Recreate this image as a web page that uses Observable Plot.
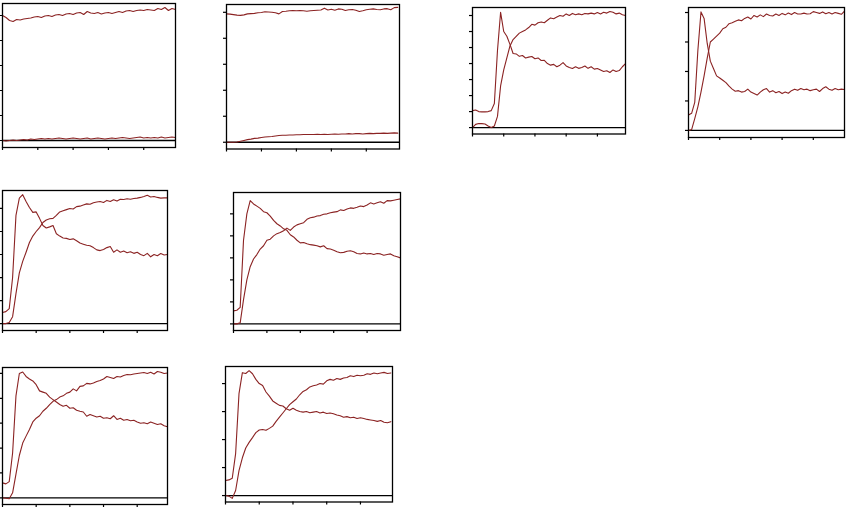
<!DOCTYPE html>
<html><head><meta charset="utf-8">
<script src="https://cdn.jsdelivr.net/npm/d3@7"></script>
<script src="https://cdn.jsdelivr.net/npm/@observablehq/plot@0.6"></script>
<style>
html,body{margin:0;padding:0;background:#fff;overflow:hidden;font-family:"DejaVu Sans",sans-serif}
#wrap{position:relative;width:851px;height:507px;overflow:hidden}
</style></head><body><div id="wrap"></div>
<script>
const time = [0,0.1,0.2,0.3,0.4,0.5,0.6,0.7,0.8,0.9,1.0,1.1,1.2,1.3,1.4,1.5,1.6,1.7,1.8,1.9,2.0,2.1,2.2,2.3,2.4,2.5,2.6,2.7,2.8,2.9,3.0,3.1,3.2,3.3,3.4,3.5,3.6,3.7,3.8,3.9,4.0,4.1,4.2,4.3,4.4,4.5,4.6,4.7,4.8,4.9,5.0];
const xTicks = [0,1,2,3,4];

const p1Upper = [5.0,4.92,4.8,4.76,4.84,4.82,4.86,4.88,4.9,4.94,4.96,4.92,4.98,5.0,4.96,5.02,5.04,5.0,5.06,5.08,5.04,5.1,5.12,5.04,5.16,5.1,5.08,5.12,5.06,5.1,5.12,5.08,5.12,5.16,5.12,5.18,5.2,5.16,5.2,5.22,5.2,5.24,5.22,5.2,5.28,5.24,5.32,5.2,5.28,5.24,5.24];
const p1Lower = [0.0,-0.02,0.0,0.02,0.0,0.02,0.04,0.02,0.06,0.04,0.06,0.08,0.06,0.08,0.06,0.08,0.1,0.08,0.06,0.08,0.1,0.08,0.06,0.08,0.1,0.06,0.08,0.1,0.08,0.06,0.08,0.1,0.08,0.1,0.12,0.1,0.08,0.1,0.12,0.14,0.1,0.12,0.1,0.12,0.1,0.14,0.1,0.12,0.14,0.12,0.12];

const p2Upper = [4.94,4.93,4.91,4.89,4.88,4.9,4.94,4.95,4.96,4.98,4.99,5.02,5.01,5.0,4.98,4.94,5.03,5.04,5.06,5.07,5.06,5.07,5.06,5.04,5.06,5.07,5.08,5.09,5.16,5.09,5.12,5.08,5.13,5.12,5.07,5.1,5.11,5.08,5.03,5.06,5.1,5.12,5.13,5.11,5.1,5.13,5.14,5.1,5.18,5.19,5.19];
const p2Lower = [0.0,0.0,0.0,0.01,0.04,0.07,0.1,0.12,0.15,0.16,0.18,0.2,0.21,0.22,0.24,0.26,0.27,0.27,0.28,0.28,0.29,0.29,0.3,0.3,0.3,0.3,0.31,0.3,0.31,0.3,0.31,0.32,0.31,0.32,0.32,0.33,0.32,0.33,0.33,0.32,0.33,0.34,0.33,0.34,0.34,0.35,0.34,0.35,0.36,0.35,0.35];

const p3Peak = [1.06,1.1,1.0,0.98,0.98,1.0,1.06,1.5,4.81,7.2,6.0,5.7,5.2,4.63,4.6,4.45,4.5,4.35,4.4,4.44,4.3,4.35,4.19,4.2,4.0,3.9,3.95,3.8,3.9,4.06,3.85,3.75,3.69,3.8,3.7,3.75,3.85,3.7,3.8,3.65,3.69,3.6,3.5,3.55,3.44,3.6,3.5,3.56,3.8,4.0,4.0];
const p3Rise = [0.0,0.2,0.25,0.25,0.22,0.1,0.0,0.1,0.7,2.6,3.6,4.35,5.1,5.5,5.7,5.9,6.0,6.1,6.25,6.45,6.4,6.55,6.6,6.55,6.7,6.85,6.8,6.9,7.0,6.95,7.1,7.0,7.13,7.05,7.1,7.05,7.13,7.1,7.15,7.1,7.19,7.1,7.2,7.15,7.25,7.2,7.1,7.15,7.05,7.0,7.0];

const p4Peak = [0.52,0.58,0.95,2.71,4.02,3.8,2.95,2.35,2.1,1.85,1.78,1.7,1.62,1.5,1.4,1.33,1.35,1.3,1.32,1.4,1.3,1.25,1.2,1.3,1.38,1.42,1.3,1.35,1.28,1.32,1.25,1.3,1.26,1.35,1.4,1.36,1.42,1.38,1.4,1.35,1.38,1.4,1.32,1.42,1.48,1.4,1.36,1.42,1.38,1.4,1.39];
const p4Rise = [0.0,0.03,0.4,0.8,1.3,1.85,2.45,3.0,3.1,3.2,3.3,3.45,3.5,3.62,3.65,3.7,3.75,3.72,3.8,3.85,3.78,3.9,3.85,3.92,3.86,3.95,3.9,3.88,3.95,3.9,3.97,3.92,3.98,3.93,4.0,3.95,3.95,3.98,3.95,3.96,4.03,4.0,3.97,4.02,3.96,4.0,3.95,4.0,3.97,3.94,4.05];

const p5Peak = [0.48,0.52,0.65,2.0,4.7,5.45,5.6,5.3,5.04,4.83,4.85,4.57,4.26,4.15,4.2,4.26,3.9,3.8,3.72,3.7,3.65,3.68,3.6,3.5,3.45,3.4,3.38,3.3,3.2,3.17,3.22,3.3,3.35,3.1,3.2,3.1,3.15,3.08,3.12,3.05,3.1,3.0,2.95,3.05,2.9,3.0,2.95,3.04,2.98,3.0,3.0];
const p5Rise = [0.0,0.0,0.05,0.3,1.3,2.2,2.7,3.1,3.52,3.8,4.0,4.17,4.39,4.5,4.55,4.57,4.7,4.85,4.9,4.95,5.0,4.98,5.08,5.1,5.15,5.2,5.18,5.25,5.28,5.3,5.26,5.35,5.3,5.38,5.32,5.4,5.39,5.42,5.4,5.43,5.45,5.48,5.52,5.57,5.5,5.52,5.48,5.45,5.46,5.46,5.46];

const p6Peak = [0.59,0.62,0.75,3.8,5.0,5.6,5.45,5.35,5.25,5.1,5.05,4.9,4.7,4.55,4.45,4.32,4.25,4.05,3.95,3.8,3.68,3.7,3.64,3.6,3.58,3.55,3.5,3.55,3.42,3.4,3.35,3.28,3.23,3.25,3.3,3.32,3.28,3.2,3.18,3.22,3.18,3.2,3.15,3.2,3.18,3.12,3.15,3.18,3.1,3.05,3.0];
const p6Rise = [0.0,0.0,0.05,1.1,2.0,2.6,2.95,3.15,3.4,3.55,3.8,3.85,4.0,4.1,4.15,4.23,4.35,4.25,4.4,4.5,4.55,4.6,4.75,4.82,4.85,4.9,4.92,4.98,5.0,5.05,5.08,5.1,5.18,5.15,5.22,5.27,5.25,5.3,5.36,5.33,5.4,5.5,5.45,5.5,5.55,5.48,5.6,5.59,5.62,5.65,5.68];

const p7Peak = [0.6,0.56,0.65,1.8,4.1,5.0,5.06,4.88,4.78,4.7,4.55,4.3,4.25,4.2,4.05,3.95,3.85,3.75,3.68,3.72,3.6,3.62,3.52,3.48,3.45,3.28,3.35,3.3,3.25,3.28,3.2,3.22,3.18,3.3,3.15,3.2,3.12,3.15,3.1,3.12,3.05,3.0,3.02,2.98,3.05,3.0,2.95,2.98,2.9,2.86,2.86];
const p7Rise = [0.0,-0.02,-0.04,0.2,0.95,1.7,2.2,2.48,2.75,3.05,3.2,3.3,3.48,3.6,3.75,3.88,3.95,4.05,4.1,4.2,4.25,4.38,4.3,4.48,4.5,4.6,4.58,4.62,4.68,4.72,4.78,4.88,4.84,4.8,4.88,4.86,4.92,4.96,4.95,4.98,5.0,5.02,5.04,5.0,5.05,4.98,5.08,5.05,5.0,5.02,5.02];

const p8Peak = [0.54,0.56,0.62,1.5,3.64,4.39,4.36,4.46,4.35,4.15,4.0,3.93,3.7,3.55,3.38,3.3,3.22,3.2,3.1,3.05,3.12,3.05,3.0,2.98,3.0,2.96,2.98,3.0,2.95,2.98,2.93,2.95,2.92,2.88,2.85,2.8,2.82,2.78,2.8,2.75,2.78,2.75,2.72,2.7,2.68,2.65,2.68,2.62,2.6,2.64,2.64];
const p8Rise = [0.0,-0.02,-0.1,0.18,0.89,1.35,1.7,1.9,2.07,2.25,2.34,2.36,2.33,2.4,2.48,2.65,2.8,2.95,3.1,3.25,3.35,3.45,3.6,3.72,3.78,3.88,3.92,3.95,4.0,3.98,4.1,4.15,4.12,4.18,4.15,4.2,4.22,4.28,4.25,4.3,4.28,4.3,4.35,4.33,4.38,4.35,4.38,4.4,4.36,4.38,4.38];

// Layout of the panels (frame box in page pixels, scale domains, tick values)
const panels = [
  {series:[p1Upper,p1Lower], left:2,   top:3,   right:175, bottom:147,   xMax:4.9,  yMin:-0.28, yMax:5.48, yTicks:[0,1,2,3,4,5]},
  {series:[p2Upper,p2Lower], left:226, top:4,   right:399, bottom:148.5, xMax:4.95, yMin:-0.26, yMax:5.3,  yTicks:[0,1,2,3,4,5]},
  {series:[p3Peak,p3Rise],   left:472, top:7,   right:625, bottom:133.5, xMax:4.9,  yMin:-0.4,  yMax:7.5,  yTicks:[0,1,2,3,4,5,6,7]},
  {series:[p4Peak,p4Rise],   left:688, top:7,   right:844, bottom:137,   xMax:5.0,  yMin:-0.24, yMax:4.17, yTicks:[0,1,2,3,4]},
  {series:[p5Peak,p5Rise],   left:2,   top:190, right:167, bottom:330,   xMax:4.9,  yMin:-0.3,  yMax:5.78, yTicks:[0,1,2,3,4,5]},
  {series:[p6Peak,p6Rise],   left:233, top:192, right:400, bottom:330,   xMax:5.0,  yMin:-0.3,  yMax:5.97, yTicks:[0,1,2,3,4,5]},
  {series:[p7Peak,p7Rise],   left:2,   top:367, right:167, bottom:504,   xMax:4.9,  yMin:-0.27, yMax:5.24, yTicks:[0,1,2,3,4,5]},
  {series:[p8Peak,p8Rise],   left:225, top:366, right:392, bottom:501.5, xMax:4.95, yMin:-0.23, yMax:4.61, yTicks:[0,1,2,3,4]}
];

const M = {l: 6, t: 2, r: 2, b: 6};
const wrap = document.getElementById("wrap");
const lineColor = "#8b2323";
for (const p of panels) {
  const rows = [];
  p.series.forEach((s, k) => s.forEach((v, i) => {
    if (time[i] <= p.xMax + 1e-9) rows.push({t: time[i], v, k});
  }));
  const w = p.right - p.left, h = p.bottom - p.top;
  const chart = Plot.plot({
    width: w + M.l + M.r, height: h + M.t + M.b,
    marginLeft: M.l, marginRight: M.r, marginTop: M.t, marginBottom: M.b,
    style: {background: "transparent", overflow: "visible"},
    x: {domain: [0, p.xMax]},
    y: {domain: [p.yMin, p.yMax]},
    marks: [
      Plot.ruleY([0], {stroke: "#000", strokeWidth: 1.3}),
      Plot.axisX(xTicks, {tickSize: 3, tickFormat: () => "", label: null, stroke: "#000", strokeWidth: 1.2}),
      Plot.axisY(p.yTicks, {tickSize: 3, tickFormat: () => "", label: null, stroke: "#000", strokeWidth: 1.2}),
      Plot.line(rows, {x: "t", y: "v", z: "k", stroke: lineColor, strokeWidth: 1.1}),
      Plot.frame({stroke: "#000", strokeWidth: 1.3})
    ]
  });
  chart.style.position = "absolute";
  chart.style.left = (p.left - M.l) + "px";
  chart.style.top = (p.top - M.t) + "px";
  wrap.append(chart);
}
</script>
</body></html>
